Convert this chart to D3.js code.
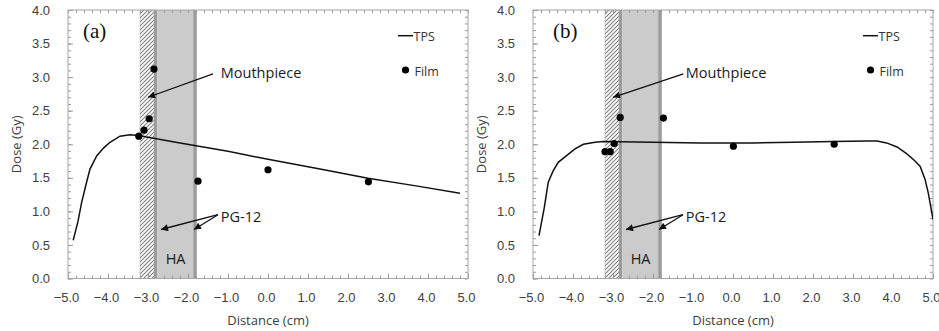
<!DOCTYPE html>
<html>
<head>
<meta charset="utf-8">
<script src="https://cdn.jsdelivr.net/npm/d3@7.9.0/dist/d3.min.js"></script>
<style>
  body { margin: 0; background: #fff; }
  svg { display: block; font-family: "Open Sans", sans-serif; }
  .tick text { fill: #404040; font-size: 13px; }
  .domain { stroke: none; }
  .tick line { stroke: #9a9a9a; }
</style>
</head>
<body>
<svg id="chart" width="939" height="331"></svg>
<script>
// ---------- Data ----------
// TPS profile, panel (a)
const tpsXA = [-4.87, -4.75, -4.66, -4.55, -4.45, -4.28, -4.1, -3.95, -3.7, -3.45, -3.24, -2.2, -1.0, 0.0, 1.3, 2.5, 3.7, 4.8];
const tpsYA = [0.57, 0.85, 1.13, 1.4, 1.63, 1.83, 1.95, 2.03, 2.12, 2.14, 2.13, 2.02, 1.895, 1.775, 1.63, 1.495, 1.38, 1.27];
// Film measurements, panel (a)
const filmXA = [-3.23, -3.1, -2.97, -2.85, -1.75, 0.0, 2.51];
const filmYA = [2.12, 2.21, 2.38, 3.12, 1.45, 1.62, 1.44];

// TPS profile, panel (b)
const tpsXB = [-4.85, -4.72, -4.62, -4.5, -4.37, -4.16, -3.95, -3.74, -3.45, -3.24, -2.0, -0.8, 0.5, 1.5, 2.5, 3.34, 3.6, 3.84, 4.1, 4.34, 4.55, 4.68, 4.8, 4.88, 4.95, 5.0];
const tpsYB = [0.64, 1.05, 1.43, 1.6, 1.73, 1.83, 1.93, 2.0, 2.03, 2.04, 2.03, 2.02, 2.02, 2.03, 2.04, 2.05, 2.05, 2.02, 1.96, 1.86, 1.75, 1.67, 1.48, 1.28, 1.05, 0.88];
// Film measurements, panel (b)
const filmXB = [-3.2, -3.07, -2.97, -2.82, -1.74, 0.01, 2.53];
const filmYB = [1.89, 1.89, 2.01, 2.40, 2.39, 1.97, 2.0];

// Material layers (cm)
const layerNames = ["Mouthpiece", "PG-12", "HA", "PG-12"];
const layerStart = [-3.2, -2.85, -2.77, -1.87];
const layerEnd = [-2.85, -2.77, -1.87, -1.78];

// Axis ticks
const xMajor = [-5, -4, -3, -2, -1, 0, 1, 2, 3, 4, 5];
const yMajor = [0, 0.5, 1, 1.5, 2, 2.5, 3, 3.5, 4];

const svg = d3.select("#chart");

// hatch for mouthpiece
const defs = svg.append("defs");
defs.append("pattern")
  .attr("id", "hatch")
  .attr("patternUnits", "userSpaceOnUse")
  .attr("width", 4).attr("height", 4)
  .append("path")
  .attr("d", "M-1,1 l2,-2 M0,4 l4,-4 M3,5 l2,-2")
  .attr("stroke", "#808080")
  .attr("stroke-width", 1.1);

defs.append("marker")
  .attr("id", "arrow")
  .attr("markerUnits", "userSpaceOnUse")
  .attr("viewBox", "0 0 10 10")
  .attr("refX", 10).attr("refY", 5)
  .attr("markerWidth", 10).attr("markerHeight", 7)
  .attr("orient", "auto")
  .append("path")
  .attr("d", "M0,0 L10,5 L0,10 Z")
  .attr("fill", "#111");

function drawPanel(opt) {
  const left = opt.left, top = 10, width = 400, height = 268.5;
  const g = svg.append("g").attr("transform", `translate(${left},${top})`);

  const x = d3.scaleLinear().domain([-5, 5]).range([0, width]);
  const y = d3.scaleLinear().domain([0, 4]).range([height, 0]);

  const clipId = "clip-" + opt.label;
  defs.append("clipPath").attr("id", clipId)
    .append("rect").attr("width", width).attr("height", height);

  // layers
  const fills = ["url(#hatch)", "#9c9c9c", "#cbcbcb", "#9c9c9c"];
  layerStart.forEach((s, i) => {
    g.append("rect")
      .attr("x", x(s))
      .attr("y", 0)
      .attr("width", x(layerEnd[i]) - x(s))
      .attr("height", height)
      .attr("fill", fills[i])
      .attr("stroke", i === 0 ? "#b0b0b0" : "none")
      .attr("stroke-width", 0.6);
  });

  // minor ticks
  const xMinor = d3.range(-5, 5.001, 0.2).map(v => +v.toFixed(1));
  const yMinor = d3.range(0, 4.001, 0.1).map(v => +v.toFixed(1));

  g.append("g").attr("transform", `translate(0,${height})`)
    .call(d3.axisBottom(x).tickValues(xMinor).tickSize(-3).tickFormat(""));
  g.append("g")
    .call(d3.axisTop(x).tickValues(xMinor).tickSize(-3).tickFormat(""));
  g.append("g")
    .call(d3.axisLeft(y).tickValues(yMinor).tickSize(-3).tickFormat(""));
  g.append("g").attr("transform", `translate(${width},0)`)
    .call(d3.axisRight(y).tickValues(yMinor).tickSize(-3).tickFormat(""));

  // major ticks with labels
  g.append("g").attr("transform", `translate(0,${height})`)
    .call(d3.axisBottom(x).tickValues(xMajor).tickSize(-5).tickPadding(14.5)
      .tickFormat(d3.format(".1f")))
    .selectAll("text").attr("dx", "-2");
  g.append("g")
    .call(d3.axisLeft(y).tickValues(yMajor).tickSize(-5).tickPadding(18)
      .tickFormat(d3.format(".1f")));

  // plot border
  g.append("rect")
    .attr("width", width).attr("height", height)
    .attr("fill", "none").attr("stroke", "#a6a6a6").attr("stroke-width", 1);

  // TPS line
  const tps = opt.tpsX.map((v, i) => [v, opt.tpsY[i]]);
  g.append("path")
    .datum(tps)
    .attr("clip-path", `url(#${clipId})`)
    .attr("fill", "none")
    .attr("stroke", "#111")
    .attr("stroke-width", 1.5)
    .attr("d", d3.line().x(d => x(d[0])).y(d => y(d[1])));

  // Film points
  g.selectAll(".film")
    .data(opt.filmX.map((v, i) => [v, opt.filmY[i]]))
    .join("circle")
    .attr("cx", d => x(d[0]))
    .attr("cy", d => y(d[1]))
    .attr("r", 3.6)
    .attr("fill", "#000");

  // annotations
  const ann = g.append("g").attr("fill", "#1a1a1a").style("font-size", "14.5px");
  ann.append("text").attr("x", x(-1.18)).attr("y", y(2.985)).text("Mouthpiece");
  ann.append("text").attr("x", x(-1.18)).attr("y", y(0.84)).text("PG-12");
  ann.append("text").attr("x", x(-2.31)).attr("y", y(0.22))
    .attr("text-anchor", "middle").text("HA");

  const arrows = [
    [opt.mouthFrom, 3.05, -3.0, 2.70],
    [-1.25, 0.95, -2.675, 0.73],
    [-1.25, 0.95, -1.85, 0.73]
  ];
  arrows.forEach(a => {
    g.append("line")
      .attr("x1", x(a[0])).attr("y1", y(a[1]))
      .attr("x2", x(a[2])).attr("y2", y(a[3]))
      .attr("stroke", "#111").attr("stroke-width", 1.3)
      .attr("marker-end", "url(#arrow)");
  });

  // panel label
  g.append("text")
    .attr("x", opt.labelDx).attr("y", 28)
    .style("font-family", "'Liberation Serif', 'Times New Roman', serif")
    .style("font-size", "21px")
    .attr("fill", "#111")
    .text(`(${opt.label})`);

  // legend
  const lg = g.append("g").attr("transform", `translate(${opt.legendX},0)`)
    .style("font-size", "12.5px").attr("fill", "#333");
  lg.append("line").attr("x1", 0).attr("x2", 15).attr("y1", 25.7).attr("y2", 25.7)
    .attr("stroke", "#111").attr("stroke-width", 1.5);
  lg.append("text").attr("x", 15.5).attr("y", 30.5).text("TPS");
  lg.append("circle").attr("cx", 7.5).attr("cy", 60).attr("r", 3.6).attr("fill", "#000");
  lg.append("text").attr("x", 16.5).attr("y", 66).text("Film");

  // axis titles
  svg.append("text")
    .attr("x", left + width / 2).attr("y", 325)
    .attr("text-anchor", "middle")
    .style("font-size", "13px").attr("fill", "#404040")
    .text("Distance (cm)");
  svg.append("text")
    .attr("transform", `translate(${left - 47},${top + height / 2}) rotate(-90)`)
    .attr("text-anchor", "middle")
    .style("font-size", "13px").attr("fill", "#404040")
    .text("Dose (Gy)");
}

drawPanel({
  label: "a", left: 68,
  tpsX: tpsXA, tpsY: tpsYA, filmX: filmXA, filmY: filmYA,
  mouthFrom: -1.375, labelDx: 15, legendX: 330
});
drawPanel({
  label: "b", left: 533,
  tpsX: tpsXB, tpsY: tpsYB, filmX: filmXB, filmY: filmYB,
  mouthFrom: -1.24, labelDx: 20, legendX: 330
});
</script>
</body>
</html>
